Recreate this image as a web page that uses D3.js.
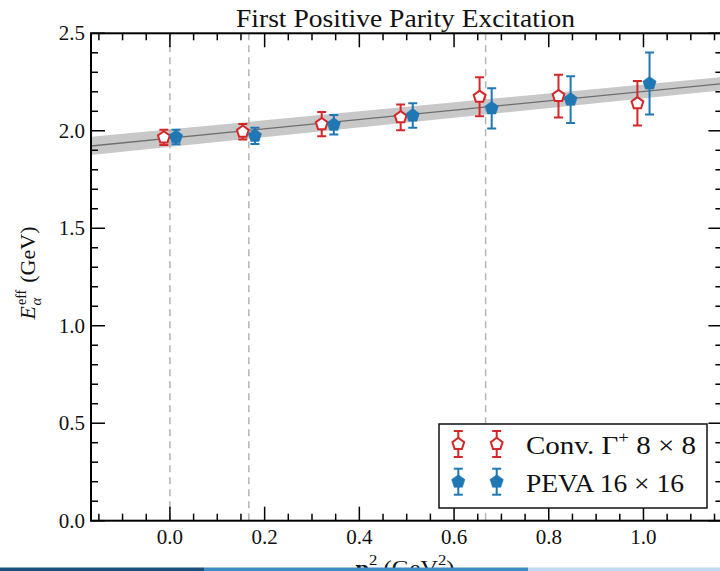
<!DOCTYPE html>
<html><head><meta charset="utf-8">
<script src="https://cdn.jsdelivr.net/npm/d3@7"></script>
<style>body{margin:0;background:#fff;overflow:hidden} svg{display:block} text{font-family:"Liberation Serif","DejaVu Serif",serif;fill:#111}</style>
</head><body><svg id="c" width="720" height="571"></svg>
<script>
// ---- data ----
const pSq = [0, 1/6, 2/6, 3/6, 4/6, 5/6, 1];
const convE = [1.966, 1.995, 2.034, 2.069, 2.174, 2.178, 2.141];
const convErr = [0.039, 0.040, 0.062, 0.066, 0.100, 0.110, 0.114];
const pevaE = [1.968, 1.974, 2.031, 2.078, 2.115, 2.160, 2.243];
const pevaErr = [0.037, 0.042, 0.050, 0.063, 0.103, 0.120, 0.159];
const dodge = 0.0128;
const fitX = [-1/6, 7/6];
const fitE = [1.922, 2.242];
const fitLo = [1.876, 2.208];
const fitHi = [1.969, 2.276];
const dashedX = [0, 1/6, 2/3];
const xTicks = [0, 0.2, 0.4, 0.6, 0.8, 1.0];
const yTicks = [0, 0.5, 1.0, 1.5, 2.0, 2.5];
const xMinor = d3.range(-0.15, 1.16, 0.05);
const yMinor = d3.range(0, 2.51, 0.1);
const seriesNames = ["Conv. \u0393", "PEVA 16 \u00d7 16"];

const RED = "#d62728", BLUE = "#1f77b4";
const svg = d3.select("#c");
const L = 91, R = 722.4, T = 33.3, B = 520.7;
const x = d3.scaleLinear().domain([-1/6, 7/6]).range([L, R]);
const y = d3.scaleLinear().domain([0, 2.5]).range([B, T]);

svg.append("defs").append("clipPath").attr("id","clip")
  .append("rect").attr("x",L).attr("y",T).attr("width",R-L).attr("height",B-T);
const plot = svg.append("g").attr("clip-path","url(#clip)");

// band
plot.append("path")
  .datum(fitX.map((v,i)=>({x:v, lo:fitLo[i], hi:fitHi[i]})))
  .attr("d", d3.area().x(d=>x(d.x)).y0(d=>y(d.lo)).y1(d=>y(d.hi)))
  .attr("fill","#c8c8c8");
plot.append("path")
  .datum(fitX.map((v,i)=>({x:v, e:fitE[i]})))
  .attr("d", d3.line().x(d=>x(d.x)).y(d=>y(d.e)))
  .attr("fill","none").attr("stroke","#6e6e6e").attr("stroke-width",1.3);

// dashed lines
plot.selectAll(".dash").data(dashedX).join("line")
  .attr("x1",d=>x(d)).attr("x2",d=>x(d)).attr("y1",T).attr("y2",B)
  .attr("stroke","#b4b4b4").attr("stroke-width",1.5).attr("stroke-dasharray","7,5");

function pent(r){
  const pts = d3.range(5).map(k=>{const a=(-90+72*k)*Math.PI/180; return [r*Math.cos(a), r*Math.sin(a)];});
  return "M"+pts.map(p=>p.join(",")).join("L")+"Z";
}
function errPoint(g, px, py, pyTop, pyBot, color, filled){
  const cap = 4.5;
  g.append("line").attr("x1",px).attr("x2",px).attr("y1",pyTop).attr("y2",pyBot)
    .attr("stroke",color).attr("stroke-width",2);
  [pyTop, pyBot].forEach(yy=>g.append("line").attr("x1",px-cap).attr("x2",px+cap)
    .attr("y1",yy).attr("y2",yy).attr("stroke",color).attr("stroke-width",2));
  g.append("path").attr("d", pent(filled?7:6.2)).attr("transform",`translate(${px},${py})`)
    .attr("fill", filled?color:"#fff").attr("stroke",color).attr("stroke-width",filled?0.5:2);
}
const gRed = plot.append("g"), gBlue = plot.append("g");
pSq.forEach((p,i)=>{
  errPoint(gRed, x(p-dodge), y(convE[i]), y(convE[i]+convErr[i]), y(convE[i]-convErr[i]), RED, false);
});
pSq.forEach((p,i)=>{
  errPoint(gBlue, x(p+dodge), y(pevaE[i]), y(pevaE[i]+pevaErr[i]), y(pevaE[i]-pevaErr[i]), BLUE, true);
});

// axes frame
const ax = svg.append("g");
ax.append("rect").attr("x",L).attr("y",T).attr("width",R-L).attr("height",B-T)
  .attr("fill","none").attr("stroke","#000").attr("stroke-width",2);
function tickLines(vals, len){
  vals.forEach(v=>{
    const xx = x(v);
    ax.append("line").attr("x1",xx).attr("x2",xx).attr("y1",B).attr("y2",B-len).attr("stroke","#000").attr("stroke-width",1.5);
    ax.append("line").attr("x1",xx).attr("x2",xx).attr("y1",T).attr("y2",T+len).attr("stroke","#000").attr("stroke-width",1.5);
  });
}
tickLines(xMinor.filter(v=>!xTicks.some(t=>Math.abs(t-v)<1e-6)), 7);
tickLines(xTicks, 14);
function ytickLines(vals, len){
  vals.forEach(v=>{
    const yy = y(v);
    ax.append("line").attr("x1",L).attr("x2",L+len).attr("y1",yy).attr("y2",yy).attr("stroke","#000").attr("stroke-width",1.5);
    ax.append("line").attr("x1",R).attr("x2",R-len).attr("y1",yy).attr("y2",yy).attr("stroke","#000").attr("stroke-width",1.5);
  });
}
ytickLines(yMinor.filter(v=>!yTicks.some(t=>Math.abs(t-v)<1e-6)), 7);
ytickLines(yTicks, 14);

ax.selectAll(".xl").data(xTicks).join("text")
  .attr("x",d=>x(d)).attr("y",544).attr("text-anchor","middle").attr("font-size",21)
  .text(d=>d3.format(".1f")(d));
ax.selectAll(".yl").data(yTicks).join("text")
  .attr("x",85).attr("y",d=>y(d)+7).attr("text-anchor","end").attr("font-size",21)
  .text(d=>d3.format(".1f")(d));

// title
svg.append("text").attr("x",236).attr("y",27).attr("font-size",24.5)
  .attr("textLength",339).attr("lengthAdjust","spacingAndGlyphs")
  .text("First Positive Parity Excitation");

// y label (built horizontally, then rotated)
const yg = svg.append("g");
const tE = yg.append("text").attr("x",0).attr("y",0).attr("font-size",22).attr("font-style","italic").text("E");
const wE = tE.node().getComputedTextLength();
const tEff = yg.append("text").attr("x",wE+1).attr("y",-9).attr("font-size",14).text("eff");
const tA = yg.append("text").attr("x",wE+0.5).attr("y",6).attr("font-size",15).attr("font-style","italic").text("\u03b1");
const wSup = Math.max(tEff.node().getComputedTextLength(), tA.node().getComputedTextLength());
const tG = yg.append("text").attr("x",wE+1+wSup+7).attr("y",0).attr("font-size",22).text("(GeV)");
const totW = wE+1+wSup+7+tG.node().getComputedTextLength();
yg.attr("transform",`translate(35,${273+totW/2}) rotate(-90)`);

// x label
const xl = svg.append("text").attr("x",405).attr("y",575).attr("text-anchor","middle").attr("font-size",22)
  .attr("textLength",99).attr("lengthAdjust","spacingAndGlyphs");
xl.append("tspan").attr("font-weight","bold").text("p");
xl.append("tspan").attr("font-size",15).attr("dy",-10).text("2");
xl.append("tspan").attr("dy",10).text(" (GeV");
xl.append("tspan").attr("font-size",15).attr("dy",-10).text("2");
xl.append("tspan").attr("dy",10).text(")");

// legend
const lg = svg.append("g");
lg.append("rect").attr("x",439).attr("y",424).attr("width",268).attr("height",84)
  .attr("fill","#fff").attr("stroke","#111").attr("stroke-width",1.5);
[[444, RED, false],[481.7, BLUE, true]].forEach(([ly,c,f])=>{
  [458.3, 496.7].forEach(lx=>errPoint(lg, lx, ly, ly-13, ly+13, c, f));
});
const t1 = lg.append("text").attr("x",526).attr("y",453.5).attr("font-size",26)
  .attr("textLength",170).attr("lengthAdjust","spacingAndGlyphs");
t1.append("tspan").text(seriesNames[0]);
t1.append("tspan").attr("font-size",17).attr("dy",-11).text("+");
t1.append("tspan").attr("dy",11).text(" 8 \u00d7 8");
lg.append("text").attr("x",526).attr("y",491.5).attr("font-size",26)
  .attr("textLength",158).attr("lengthAdjust","spacingAndGlyphs").text(seriesNames[1]);

// bottom strip
const strip = [[0,204,"#1b4f7e"],[204,528,"#3d8cc6"],[528,720,"#c2d9f2"]];
svg.selectAll(".strip").data(strip).join("rect")
  .attr("x",d=>d[0]).attr("width",d=>d[1]-d[0]).attr("y",567.5).attr("height",4).attr("fill",d=>d[2]);
</script></body></html>
